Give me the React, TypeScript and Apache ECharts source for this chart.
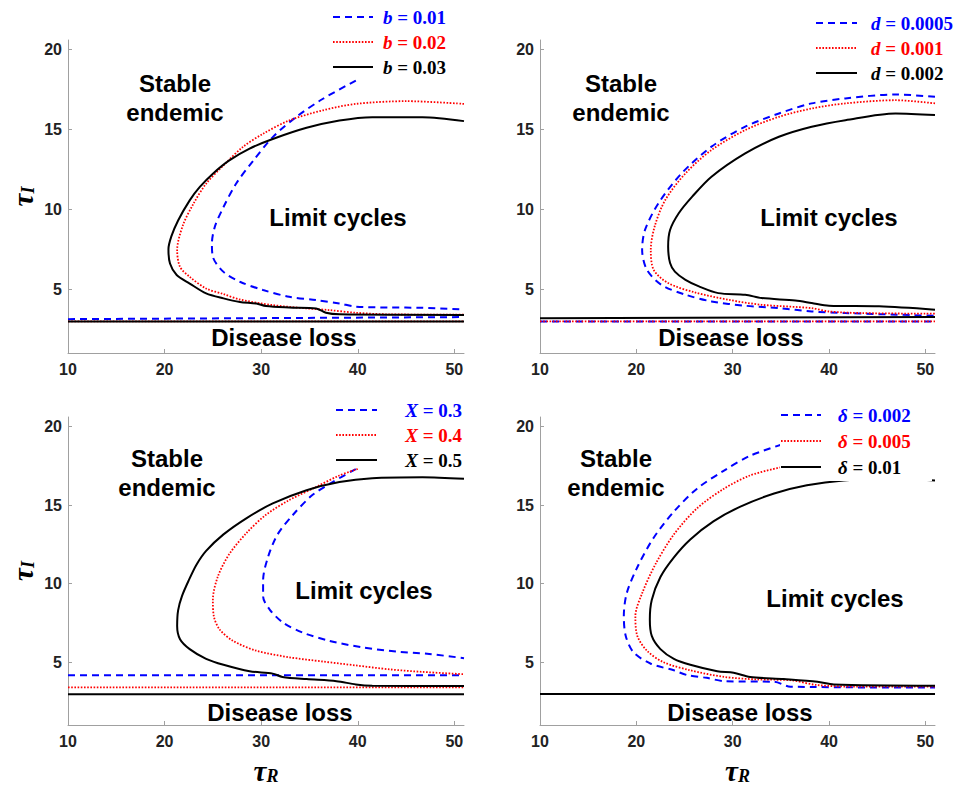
import React, { useEffect, useRef } from 'react';
import * as echarts from 'echarts';

const xTicks = [10, 20, 30, 40, 50];
const yTicks = [5, 10, 15, 20];

// Panel 1: b
const bValues = ['0.01', '0.02', '0.03'];
const bBlueCurve = [[39.8,18.06],[36.4,16.92],[33.6,15.77],[31.2,14.52],[29.2,13.06],[27.4,11.6],[26.1,10.14],[25.2,8.9],[24.9,7.86],[25.0,7.02],[26.1,6.08],[27.8,5.46],[30.2,4.94],[32.9,4.52],[35.7,4.31],[38.1,4.1],[39.8,3.9],[43.2,3.85],[46.7,3.83],[51,3.73]];
const bRedCurve = [[51,16.6],[45.0,16.77],[39.8,16.6],[36.4,16.2],[32.9,15.56],[30.2,14.73],[28.1,13.9],[26.1,12.75],[24.3,11.6],[23.0,10.36],[21.9,9.0],[21.3,7.44],[21.6,6.39],[22.6,5.77],[24.3,5.04],[26.1,4.69],[27.8,4.35],[31.2,4.0],[34.7,3.79],[37.0,3.69],[39.8,3.52],[43.2,3.42],[51,3.4]];
const bBlackCurve = [[51,15.52],[46.7,15.77],[41.5,15.77],[38.1,15.56],[34.7,15.1],[31.2,14.4],[28.8,13.8],[26.7,13.06],[25.0,12.23],[23.65,11.4],[22.6,10.56],[21.4,9.3],[20.7,8.3],[20.4,7.5],[20.56,6.6],[21.25,5.88],[22.6,5.35],[24.3,4.73],[26.1,4.42],[27.8,4.2],[29.5,4.1],[30.5,3.94],[32.9,3.85],[35.7,3.79],[36.7,3.52],[38.1,3.42],[51,3.38]];
const bBlueLine = [[10,3.12],[51,3.25]];
const bRedLine = [[10,2.98],[51,2.98]];
const bBlackLine = [[10,2.98],[51,2.98]];

// Panel 2: d
const dValues = ['0.0005', '0.001', '0.002'];
const dBlueCurve = [[51,17.04],[46.9,17.19],[41.7,16.94],[38.2,16.63],[34.8,16.0],[31.3,15.17],[27.8,13.92],[24.7,12.25],[22.3,10.38],[20.9,8.71],[20.6,7.46],[21.1,6.21],[22.6,5.27],[25.1,4.65],[27.8,4.23],[31.3,3.96],[34.8,3.81],[38.2,3.6],[41.7,3.5],[51,3.33]];
const dRedCurve = [[51,16.63],[46.9,16.83],[41.7,16.63],[38.2,16.31],[34.8,15.79],[31.3,14.96],[27.8,13.71],[25.1,12.25],[23.0,10.58],[21.9,8.92],[21.5,7.46],[21.8,6.21],[23.3,5.38],[26.1,4.79],[29.6,4.33],[33.0,4.02],[38.2,3.81],[40.0,3.6],[43.4,3.5],[51,3.46]];
const dBlackCurve = [[51,15.9],[46.9,16.0],[41.7,15.58],[38.2,15.17],[34.8,14.54],[31.3,13.5],[27.8,12.04],[25.8,10.79],[24.4,9.75],[23.5,8.7],[23.3,7.67],[23.5,6.63],[24.0,6.1],[25.1,5.58],[26.5,5.17],[28.5,4.75],[31.3,4.65],[33.0,4.44],[36.5,4.29],[38.2,4.13],[40.0,3.96],[45.2,3.92],[51,3.71]];
const dBlueLine = [[10,2.98],[51,2.98]];
const dRedLine = [[10,2.98],[51,2.98]];
const dBlackLine = [[10,3.18],[51,3.25]];

// Panel 3: X
const xValues = ['0.3', '0.4', '0.5'];
const xBlueCurve = [[39.8,17.29],[37.4,16.46],[35.3,15.63],[33.3,14.38],[31.7,13.13],[30.7,11.67],[30.2,10.21],[30.2,9.17],[30.9,8.33],[32.3,7.5],[34.3,6.88],[37.1,6.35],[40.5,5.94],[44.0,5.67],[47.4,5.52],[51,5.25]];
const xRedCurve = [[40.0,17.29],[38.1,16.88],[35.7,16.15],[32.9,15.31],[30.5,14.38],[28.5,13.23],[26.7,11.88],[25.5,10.42],[25.0,8.96],[25.1,7.92],[25.7,7.08],[27.1,6.35],[29.5,5.73],[32.9,5.31],[36.4,5.04],[39.8,4.79],[43.3,4.54],[46.7,4.38],[51,4.23]];
const xBlackCurve = [[51,16.67],[46.7,16.77],[41.5,16.71],[38.1,16.46],[34.7,15.94],[31.2,15.1],[28.5,14.17],[26.1,13.13],[24.3,12.08],[23.3,11.2],[22.5,10.2],[21.8,9.2],[21.4,8.3],[21.3,7.3],[21.6,6.46],[22.6,5.83],[24.3,5.21],[26.1,4.83],[28.8,4.42],[31.2,4.27],[32.2,4.06],[34.7,3.92],[37.8,3.79],[39.8,3.58],[41.5,3.5],[51,3.48]];
const xBlueLine = [[10,4.17],[51,4.17]];
const xRedLine = [[10,3.4],[51,3.4]];
const xBlackLine = [[10,2.96],[51,2.96]];

// Panel 4: delta
const deltaValues = ['0.002', '0.005', '0.01'];
const deltaBlueCurve = [[35.1,18.85],[31.8,18.13],[29.1,17.19],[26.3,16.04],[23.9,14.58],[21.8,12.92],[20.1,11.04],[19.0,9.38],[18.7,7.92],[18.9,6.67],[19.7,5.63],[21.5,4.9],[23.9,4.48],[25.3,4.17],[27.3,4.0],[29.1,3.79],[34.3,3.75],[36.0,3.44],[51,3.38]];
const deltaRedCurve = [[35.0,17.4],[31.8,16.88],[29.1,16.04],[26.3,14.79],[23.9,13.13],[22.0,11.25],[20.6,9.38],[19.9,7.92],[20.1,6.67],[21.1,5.73],[22.8,5.0],[25.6,4.48],[29.1,4.06],[32.5,3.9],[36.0,3.85],[38.8,3.54],[42.9,3.44],[51,3.44]];
const deltaBlackCurve = [[51,16.56],[46,16.65],[41.5,16.56],[37.7,16.25],[34.3,15.73],[30.8,14.9],[28.0,13.96],[25.6,12.81],[23.9,11.67],[22.5,10.42],[21.6,8.96],[21.4,7.71],[21.6,6.67],[22.5,5.83],[23.9,5.21],[25.6,4.83],[28.4,4.42],[30.1,4.33],[31.8,4.06],[35.3,3.92],[38.8,3.75],[40.5,3.58],[51,3.5]];
const deltaBlueLine = [[10,2.98],[51,2.98]];
const deltaRedLine = [[10,2.98],[51,2.98]];
const deltaBlackLine = [[10,2.98],[51,2.98]];

const BLUE = '#0000ff';
const RED = '#ff0000';
const BLACK = '#000000';
const styles = [
  { color: BLUE, width: 2, type: [7, 5] },
  { color: RED, width: 1.8, type: [1.6, 1.6] },
  { color: BLACK, width: 2, type: 'solid' },
];

const panels = [
  { param: 'b', values: bValues, curves: [bBlueCurve, bRedCurve, bBlackCurve], lines: [bBlueLine, bRedLine, bBlackLine],
    grid: { left: 68, top: 40, width: 396, height: 313 },
    legend: { x0: 333, x1: 373, tx: 383, rows: [17, 42, 67], align: 'left', box: null },
    stable: [175, 83, 112], limit: [338, 217], disease: [284, 337], yName: true, xName: false },
  { param: 'd', values: dValues, curves: [dBlueCurve, dRedCurve, dBlackCurve], lines: [dBlueLine, dRedLine, dBlackLine],
    grid: { left: 540, top: 40, width: 395, height: 313 },
    legend: { x0: 816, x1: 857, tx: 871, rows: [23, 48, 73], align: 'left', box: null },
    stable: [621, 83, 112], limit: [829, 217], disease: [731, 337], yName: false, xName: false },
  { param: 'X', values: xValues, curves: [xBlueCurve, xRedCurve, xBlackCurve], lines: [xBlueLine, xRedLine, xBlackLine],
    grid: { left: 68, top: 417, width: 396, height: 314 },
    legend: { x0: 336, x1: 377, tx: 462, rows: [410, 435, 460], align: 'right', box: null },
    stable: [167, 458, 487], limit: [364, 590], disease: [280, 712], yName: true, xName: true },
  { param: 'δ', values: deltaValues, curves: [deltaBlueCurve, deltaRedCurve, deltaBlackCurve], lines: [deltaBlueLine, deltaRedLine, deltaBlackLine],
    grid: { left: 540, top: 417, width: 395, height: 314 },
    legend: { x0: 781, x1: 821, tx: 838, rows: [415, 441, 467], align: 'left', box: [780, 396, 152, 85] },
    stable: [616, 458, 487], limit: [835, 598], disease: [740, 712], yName: false, xName: true },
];

const AXIS_GRAY = '#a0a0a0';
const SANS = '"Liberation Sans", Arial, Helvetica, sans-serif';
const SERIF = '"Liberation Serif", "Times New Roman", serif';

const tauRich = {
  t: { fontFamily: SERIF, fontStyle: 'italic', fontWeight: 'bold', fontSize: 29, color: '#000' },
  s: { fontFamily: SERIF, fontStyle: 'italic', fontWeight: 'bold', fontSize: 18, color: '#000', verticalAlign: 'bottom', padding: [10, 0, 0, 0] },
};

function buildOption() {
  const grids: any[] = [];
  const xAxes: any[] = [];
  const yAxes: any[] = [];
  const series: any[] = [];
  const graphics: any[] = [];

  panels.forEach((p, i) => {
    grids.push({ ...p.grid, containLabel: false });
    xAxes.push({
      type: 'value', gridIndex: i, min: 10, max: 51,
      axisLine: { show: true, lineStyle: { color: AXIS_GRAY, width: 1 } },
      axisTick: { show: true, inside: true, length: 4, customValues: xTicks, lineStyle: { color: AXIS_GRAY } },
      axisLabel: { customValues: xTicks, fontFamily: SANS, fontWeight: 'bold', fontSize: 16, color: '#222', margin: 8 },
      splitLine: { show: false },
      name: p.xName ? '{t|τ}{s|R}' : '',
      nameLocation: 'middle', nameGap: 31,
      nameTextStyle: { rich: tauRich },
    });
    yAxes.push({
      type: 'value', gridIndex: i, min: 1, max: 20.6,
      axisLine: { show: true, lineStyle: { color: AXIS_GRAY, width: 1 } },
      axisTick: { show: true, inside: true, length: 4, customValues: yTicks, lineStyle: { color: AXIS_GRAY } },
      axisLabel: { customValues: yTicks, fontFamily: SANS, fontWeight: 'bold', fontSize: 16, color: '#222', margin: 6 },
      splitLine: { show: false },
      name: p.yName ? '{t|τ}{s|I}' : '',
      nameLocation: 'middle', nameGap: 31, nameRotate: 90,
      nameTextStyle: { rich: tauRich },
    });

    [0, 1, 2].forEach((k) => {
      series.push({
        type: 'line', name: `${p.param} = ${p.values[k]} line`, xAxisIndex: i, yAxisIndex: i,
        data: p.lines[k], showSymbol: false, symbol: 'none', lineStyle: styles[k], z: 2 + k,
      });
    });
    [0, 1, 2].forEach((k) => {
      series.push({
        type: 'line', name: `${p.param} = ${p.values[k]}`, xAxisIndex: i, yAxisIndex: i,
        data: p.curves[k], showSymbol: false, symbol: 'none', smooth: 0.3, lineStyle: styles[k], z: 2 + k,
      });
    });

    const lg = p.legend;
    if (lg.box) {
      graphics.push({ type: 'rect', z: 50, shape: { x: lg.box[0], y: lg.box[1], width: lg.box[2], height: lg.box[3] }, style: { fill: '#fff' } });
    }
    [0, 1, 2].forEach((k) => {
      const st = styles[k];
      graphics.push({
        type: 'line', z: 51,
        shape: { x1: lg.x0, y1: lg.rows[k], x2: lg.x1, y2: lg.rows[k] },
        style: { stroke: st.color, lineWidth: st.width, lineDash: st.type === 'solid' ? null : st.type },
      });
      graphics.push({
        type: 'text', z: 51, x: lg.tx, y: lg.rows[k],
        style: {
          text: `{i|${p.param}}{n| = ${p.values[k]}}`,
          align: lg.align, verticalAlign: 'middle',
          rich: {
            i: { fontFamily: SERIF, fontStyle: 'italic', fontWeight: 'bold', fontSize: 19, fill: st.color },
            n: { fontFamily: SERIF, fontWeight: 'bold', fontSize: 19, fill: st.color },
          },
        },
      });
    });

    const txt = (s: string, x: number, y: number) => ({
      type: 'text', z: 52, x, y,
      style: { text: s, align: 'center', verticalAlign: 'middle', fontFamily: SANS, fontWeight: 'bold', fontSize: 24, fill: '#000' },
    });
    graphics.push(txt('Stable', p.stable[0], p.stable[1]));
    graphics.push(txt('endemic', p.stable[0], p.stable[2]));
    graphics.push(txt('Limit cycles', p.limit[0], p.limit[1]));
    graphics.push(txt('Disease loss', p.disease[0], p.disease[1]));
  });

  return {
    animation: false,
    backgroundColor: '#ffffff',
    grid: grids,
    xAxis: xAxes,
    yAxis: yAxes,
    series,
    graphic: { elements: graphics },
  };
}

export default function App() {
  const ref = useRef<HTMLDivElement>(null);
  useEffect(() => {
    if (!ref.current) return;
    const chart = echarts.init(ref.current, undefined, { renderer: 'svg' });
    chart.setOption(buildOption() as any);
    return () => chart.dispose();
  }, []);
  return <div ref={ref} style={{ position: 'fixed', left: 0, top: 0, width: 957, height: 786, background: '#fff' }} />;
}
